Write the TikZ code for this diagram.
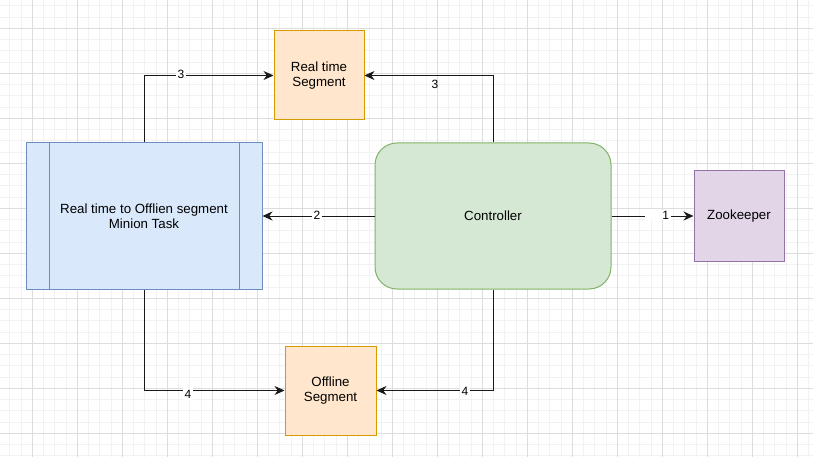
\documentclass[tikz,border=0pt]{standalone}
\usepackage{fontspec}
\setmainfont{Liberation Sans}
\usetikzlibrary{arrows.meta}
\definecolor{orfill}{HTML}{FFE6CC}
\definecolor{ordraw}{HTML}{D79B00}
\definecolor{blfill}{HTML}{DAE8FC}
\definecolor{bldraw}{HTML}{6C8EBF}
\definecolor{grfill}{HTML}{D5E8D4}
\definecolor{grdraw}{HTML}{82B366}
\definecolor{pufill}{HTML}{E1D5E7}
\definecolor{pudraw}{HTML}{9673A6}
\definecolor{gridminor}{HTML}{F2F2F2}
\definecolor{gridmajor}{HTML}{DDDDDD}
\begin{document}
\begin{tikzpicture}[x=1pt,y=-1pt,
  box/.style={draw, line width=1pt, inner sep=2pt, align=center,
    font=\fontsize{13.3}{15.5}\selectfont},
  edge/.style={draw=black!90, line width=1pt, -{Stealth[length=10pt,width=9pt]}},
  lbl/.style={fill=white, inner sep=1.5pt, font=\fontsize{12}{14}\selectfont},
  minorgrid/.style={draw=gridminor, line width=0.8pt},
  majorgrid/.style={draw=gridmajor, line width=0.8pt}]
\useasboundingbox (0,0) rectangle (813,457);
\fill[white] (0,0) rectangle (813,457);
% grid
\foreach \i in {0,...,72} \draw[minorgrid] ({9.8+11.25*\i},0) -- ++(0,457);
\foreach \i in {0,...,41} \draw[minorgrid] (0,{5.8+11.25*\i}) -- ++(813,0);
\foreach \i in {0,...,17} \draw[majorgrid] ({32.3+45*\i},0) -- ++(0,457);
\foreach \i in {0,...,9} \draw[majorgrid] (0,{28.3+45*\i}) -- ++(813,0);

% nodes
\node[box, fill=orfill, draw=ordraw, minimum width=90pt, minimum height=89pt] (rts) at (319,75.5) {Real time\\Segment};
\node[box, fill=blfill, draw=bldraw, minimum width=236pt, minimum height=146pt] (min) at (144,216) {Real time to Offlien segment\\Minion Task};
\draw[draw=bldraw, line width=1pt] ([xshift=24pt]min.north west) -- ([xshift=24pt]min.south west);
\draw[draw=bldraw, line width=1pt] ([xshift=-23pt]min.north east) -- ([xshift=-23pt]min.south east);
\node[box, fill=grfill, draw=grdraw, rounded corners=22pt, minimum width=236pt, minimum height=146pt] (ctrl) at (493,216) {Controller};
\node[box, fill=pufill, draw=pudraw, minimum width=90pt, minimum height=90pt] (zk) at (739,216) {Zookeeper};
\node[box, fill=orfill, draw=ordraw, minimum width=91pt, minimum height=89pt] (off) at (330.5,390.5) {Offline\\Segment};

% connectors
\draw[edge] (min.north) |- (rts.west);
\draw[edge] (ctrl.north) |- (rts.east);
\draw[edge] (ctrl.west) -- (min.east);
\draw[edge] (ctrl.east) -- (zk.west);
\draw[edge] (min.south) |- (off.west);
\draw[edge] (ctrl.south) |- (off.east);

% labels
\node[lbl] (l3a) at (181,74.5) {3};
\node[lbl, fill=none] (l3b) at (435,84) {3};
\node[lbl] (l2) at (317,215.5) {2};
\node[lbl, minimum width=26pt, align=right, text width=22pt, inner sep=1pt] (l1) at (658,215) {\hfill 1};
\node[lbl] (l4a) at (188,394) {4};
\node[lbl] (l4b) at (465,391) {4};
\end{tikzpicture}
\end{document}
